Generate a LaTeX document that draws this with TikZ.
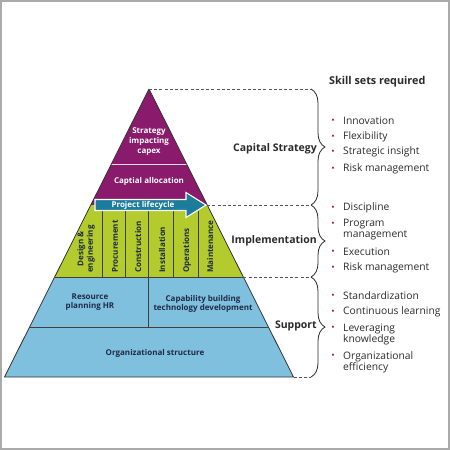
\documentclass[tikz,border=0pt]{standalone}
\usepackage{fontspec}
\setmainfont{Open Sans}
\usetikzlibrary{decorations.pathreplacing,calc}
\definecolor{purp}{HTML}{8A1A6C}
\definecolor{lime}{HTML}{B4CB2D}
\definecolor{sky}{HTML}{7FC0DF}
\definecolor{tealarrow}{HTML}{1B7C9C}
\definecolor{navy}{HTML}{1E2B45}
\definecolor{bred}{HTML}{A3122E}
\definecolor{framegray}{HTML}{AAAAAA}
\definecolor{txt}{HTML}{2A2A2A}
\definecolor{dashgray}{HTML}{555555}
\tikzset{
  outline/.style={draw=black!80, line width=0.8pt, line join=round},
  divider/.style={draw=black!75, line width=0.7pt},
  intext/.style={font=\bfseries\fontsize{8}{9.6}\selectfont, align=center, inner sep=0pt},
  vtext/.style={intext, text=navy, rotate=90, anchor=west},
  blutext/.style={intext, text=navy},
  dashline/.style={draw=dashgray, line width=0.8pt, dash pattern=on 3pt off 2.2pt},
  bracestyle/.style={draw=txt, line width=0.8pt, decorate, decoration={brace, amplitude=14pt}},
  lab/.style={font=\bfseries\fontsize{10.5}{12}\selectfont, text=txt, anchor=east, inner sep=0pt},
  head/.style={font=\bfseries\fontsize{10.8}{12}\selectfont, text=txt, anchor=west, inner sep=0pt},
  itm/.style={font=\fontsize{10.3}{11.5}\selectfont, text=txt, anchor=west, align=left, inner sep=0pt},
  bul/.style={font=\fontsize{9}{9}\selectfont, text=bred, inner sep=0pt}
}
\begin{document}
\begin{tikzpicture}[x=1pt,y=-1pt]
\useasboundingbox (0,0) rectangle (450,450);
\draw[framegray, line width=2pt] (1,1) rectangle (449,449);
% pyramid points
\coordinate (apex) at (149,89);
\coordinate (l1) at (111.4,164); \coordinate (r1) at (186.6,164);
\coordinate (l2) at (90.8,205);  \coordinate (r2) at (207.2,205);
\coordinate (l3) at (54.7,277);  \coordinate (r3) at (243.3,277);
\coordinate (l4) at (29.6,327);  \coordinate (r4) at (268.4,327);
\coordinate (l5) at (4.5,377);   \coordinate (r5) at (293.5,377);
% fills
\fill[purp] (apex) -- (r2) -- (l2) -- cycle;
\fill[lime] (l2) -- (r2) -- (r3) -- (l3) -- cycle;
\fill[sky] (l3) -- (r3) -- (r5) -- (l5) -- cycle;
% dividers
\draw[white!85!purp, line width=0.8pt] (l1) -- (r1);
\draw[divider] (l3) -- (r3);
\draw[divider] (l4) -- (r4);
\coordinate (v1t) at (102,211); \coordinate (v1b) at (102,277);
\coordinate (v2t) at (125,211); \coordinate (v2b) at (125,277);
\coordinate (v3t) at (148,211); \coordinate (v3b) at (148,327);
\coordinate (v4t) at (173,211); \coordinate (v4b) at (173,277);
\coordinate (v5t) at (198,211); \coordinate (v5b) at (198,277);
\draw[divider] (v1t) -- (v1b);
\draw[divider] (v2t) -- (v2b);
\draw[divider] (v3t) -- (v3b);
\draw[divider] (v4t) -- (v4b);
\draw[divider] (v5t) -- (v5b);
% outline
\draw[outline] (apex) -- (r5) -- (l5) -- cycle;
% arrow
\draw[white, line width=1.1pt, fill=tealarrow, line join=miter]
  (95,199.5) -- (186,199.5) -- (186,192.5) -- (206,205) -- (186,217.5) -- (186,210.5) -- (95,210.5) -- cycle;
\node[intext, text=white] (plc) at (143,205) {Project lifecycle};
% texts in pyramid
\node[intext, text=white] (strat) at (149,141.5) {Strategy\\impacting\\capex};
\node[intext, text=white] (alloc) at (149,181) {Captial allocation};
\node[vtext] (design) at (86,273) {Design \&\\engineering};
\node[vtext] (proc) at (115,273) {Procurement};
\node[vtext] (constr) at (138,273) {Construction};
\node[vtext] (inst) at (162,273) {Installation};
\node[vtext] (oper) at (187,273) {Operations};
\node[vtext] (maint) at (210,273) {Maintenance};
\node[blutext] (resource) at (90,302) {Resource\\planning HR};
\node[blutext] (capab) at (203,304) {Capability building\\technology development};
\node[blutext] (org) at (155,353) {Organizational structure};
% dashed lines
\coordinate (d1) at (311,89);
\coordinate (d2) at (311,205);
\coordinate (d3) at (311,277);
\coordinate (d4) at (311,377);
\draw[dashline] (apex) -- (d1);
\draw[dashline] (r2) -- (d2);
\draw[dashline] (r3) -- (d3);
\draw[dashline] (r5) -- (d4);
% braces
\draw[bracestyle] (d1) -- (d2);
\draw[bracestyle] (d2) -- (d3);
\draw[bracestyle] (d3) -- (d4);
% labels
\node[lab] (capstrat) at (317,149) {Capital Strategy};
\node[lab] (impl) at (317,241) {Implementation};
\node[lab] (supp) at (317,326) {Support};
% skills
\node[head] (skills) at (329,82) {Skill sets required};
\foreach \n/\y/\t in {b1/121/Innovation, b2/137/Flexibility, b3/152/Strategic insight, b4/169/Risk management,
  b5/208/Discipline, b7/252/Execution, b8/268/Risk management,
  b9/296/Standardization, b10/312/Continuous learning}{
  \node[bul] (\n dot) at (333,\y) {•};
  \node[itm] (\n) at (343,\y) {\t};
}
\node[bul] (b6dot) at (333,224) {•};
\node[itm] (b6) at (343,229.5) {Program\\management};
\node[bul] (b11dot) at (333,328) {•};
\node[itm] (b11) at (343,334.5) {Leveraging\\knowledge};
\node[bul] (b12dot) at (333,356) {•};
\node[itm] (b12) at (343,362.5) {Organizational\\efficiency};
\end{tikzpicture}
\end{document}
